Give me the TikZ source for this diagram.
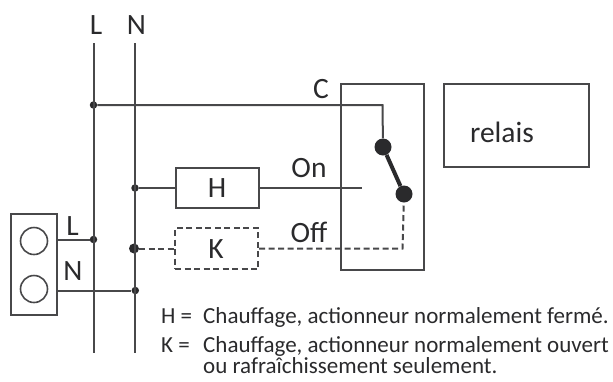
\documentclass[tikz,border=0pt]{standalone}
\usepackage{fontspec}
\setmainfont{Carlito}
\definecolor{ink}{HTML}{2A2A2C}
\definecolor{lineink}{HTML}{48484A}
\tikzset{
  wire/.style={draw=lineink,line width=2pt},
  dashwire/.style={draw=lineink,line width=2pt,dash pattern=on 6pt off 3.5pt},
  box/.style={draw=lineink,line width=2pt,rectangle,inner sep=0pt,minimum width=0pt},
  dashbox/.style={box,dash pattern=on 6pt off 3.5pt},
  lab/.style={inner sep=0pt,text=ink,font=\fontsize{29.5}{29.5}\selectfont},
  leg/.style={inner sep=0pt,text=ink,anchor=base west,font=\fontsize{23}{23}\selectfont},
  dot/.style={circle,fill=ink,inner sep=0pt,draw=none},
  term/.style={circle,draw=lineink,line width=1.6pt,minimum size=27pt,inner sep=0pt}
}
\begin{document}
\begin{tikzpicture}[x=1pt,y=-1pt]
\useasboundingbox (0,0) rectangle (613,381);
% boxes
\node[box,minimum width=45.5pt,minimum height=101pt] (term) at (34.2,264.5) {};
\node[term] (t1) at (34,241) {};
\node[term] (t2) at (34,289) {};
\node[box,minimum width=83pt,minimum height=186pt] (relay) at (382.5,177) {};
\node[box,minimum width=145pt,minimum height=83pt] (rel) at (516.5,125.5) {};
\node[box,minimum width=83pt,minimum height=40pt] (H) at (217.5,188) {};
\node[dashbox,minimum width=83pt,minimum height=41pt] (K) at (216.5,248.5) {};
% coordinates
\coordinate (Ltop) at (93.5,43);
\coordinate (Lbot) at (93.5,353);
\coordinate (Ntop) at (135,43);
\coordinate (Nbot) at (135,353);
\coordinate (cc) at (382.5,105);
\coordinate (onend) at (362,188);
\coordinate (offc) at (402.5,248.5);
\node[dot,minimum size=7.5pt] (dL1) at (93.5,105) {};
\node[dot,minimum size=7.5pt] (dL2) at (93.5,239.5) {};
\node[dot,minimum size=7.5pt] (dN1) at (135,188) {};
\node[dot,minimum size=10pt] (dN2) at (134,248.5) {};
\node[dot,minimum size=7.5pt] (dN3) at (135.3,290.5) {};
\node[dot,minimum size=17pt] (sw1) at (383,147) {};
\node[dot,minimum size=17pt] (sw2) at (404,194) {};
\draw[wire] (Ltop) -- (Lbot);
\draw[wire] (Ntop) -- (Nbot);
\draw[wire] (dL1) -- (cc) -- (sw1);
\draw[draw=ink,line width=4pt] (sw1) -- (sw2);
\draw[wire] (dN1) -- (H.west);
\draw[wire] (H.east) -- (onend);
\draw[wire] (term.east |- dL2) -- (dL2);
\draw[wire] (term.east |- dN3) -- (dN3);
\draw[dashwire] (dN2) -- (K.west);
\draw[dashwire] (K.east) -- (offc) -- (sw2);
% labels
\node[lab] (lL) at (96,25) {L};
\node[lab] (lN) at (136.5,25) {N};
\node[lab] (lC) at (321,89) {C};
\node[lab] (lOn) at (309,168) {On};
\node[lab] (lOff) at (309,232) {Off};
\node[lab] (tH) at (217,188.5) {H};
\node[lab] (tK) at (216,249) {K};
\node[lab] (trel) at (502,132) {relais};
\node[lab] (tL) at (72.5,226) {L};
\node[lab] (tN) at (73,271) {N};
\node[leg] (l1) at (161,323) {H =};
\node[leg] (l1b) at (203,323) {Chauffage, actionneur normalement fermé.};
\node[leg] (l2) at (161,352) {K =};
\node[leg] (l2b) at (203,352) {Chauffage, actionneur normalement ouvert};
\node[leg] (l3) at (203,373) {ou rafraîchissement seulement.};
\end{tikzpicture}
\end{document}
